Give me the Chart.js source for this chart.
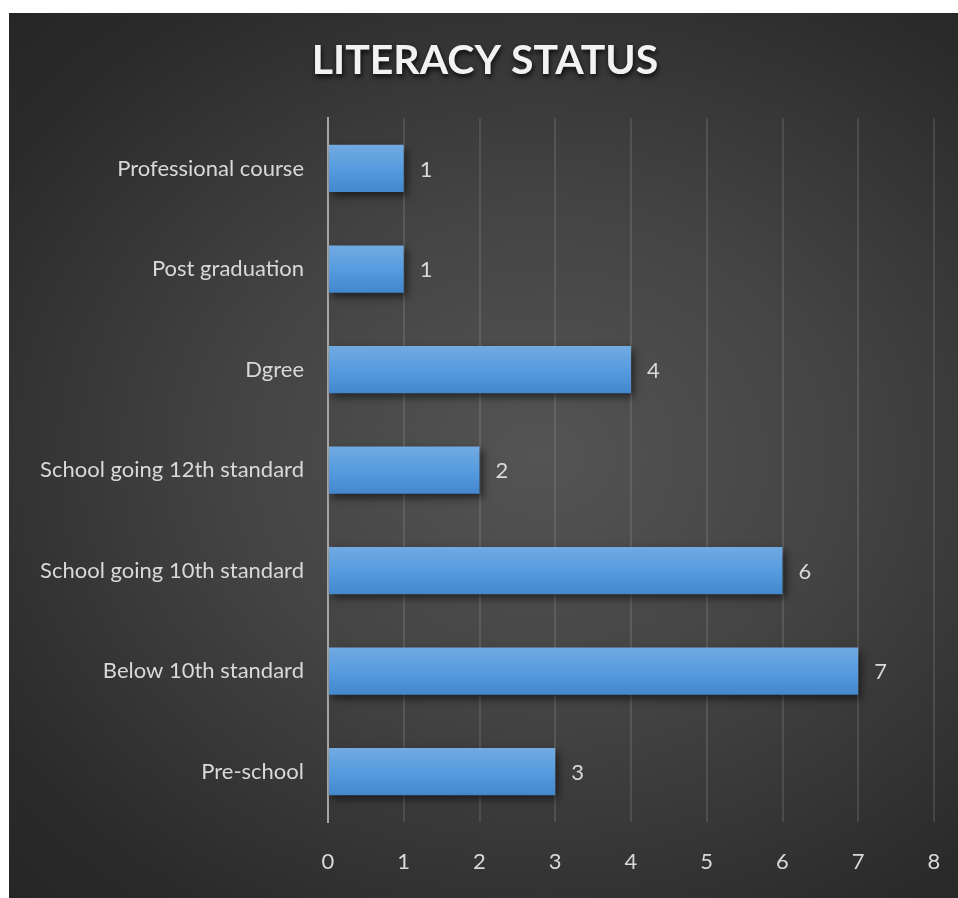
<!DOCTYPE html>
<html>
<head>
<meta charset="utf-8">
<script src="https://cdn.jsdelivr.net/npm/chart.js@4.4.1/dist/chart.umd.min.js"></script>
<style>
  html, body { margin: 0; padding: 0; background: #fff; }
  #wrap { position: relative; width: 958px; height: 898px; }
  #panel {
    position: absolute; left: 9px; top: 13px; width: 949px; height: 885px;
    background: radial-gradient(ellipse at 56% 50%, #545454 0%, #444 40%, #2a2a2a 85%, #262626 100%);
  }
  #chart { position: absolute; left: 0; top: 0; }
</style>
</head>
<body>
<div id="wrap">
  <div id="panel"></div>
  <canvas id="chart" width="958" height="898"></canvas>
</div>
<script>
const categories = [
  'Professional course',
  'Post graduation',
  'Dgree',
  'School going 12th standard',
  'School going 10th standard',
  'Below 10th standard',
  'Pre-school'
];
const counts = [1, 1, 4, 2, 6, 7, 3];
const xTicks = [0, 1, 2, 3, 4, 5, 6, 7, 8];

const FONT = 'Lato, "Open Sans", sans-serif';
const TEXT = '#d9d9d9';
const BAR_PCT = 0.47;

function barFill(context) {
  const chart = context.chart;
  const y = chart.scales.y;
  if (!y || !chart.chartArea) return '#559bdf';
  const c = y.getPixelForValue(context.dataIndex);
  const half = (y.getPixelForValue(1) - y.getPixelForValue(0)) * BAR_PCT / 2;
  const g = chart.ctx.createLinearGradient(0, c - half, 0, c + half);
  g.addColorStop(0, '#72aae1');
  g.addColorStop(0.5, '#569cdf');
  g.addColorStop(1, '#4387cd');
  return g;
}

// soft drop shadow under the bars
const barShadow = {
  id: 'barShadow',
  beforeDatasetsDraw(chart) {
    const ctx = chart.ctx;
    ctx.save();
    ctx.shadowColor = 'rgba(0,0,0,0.55)';
    ctx.shadowBlur = 8;
    ctx.shadowOffsetX = 3;
    ctx.shadowOffsetY = 4;
  },
  afterDatasetsDraw(chart) {
    chart.ctx.restore();
  }
};

// value next to each bar
const valueLabels = {
  id: 'valueLabels',
  afterDatasetsDraw(chart) {
    const ctx = chart.ctx;
    const meta = chart.getDatasetMeta(0);
    ctx.save();
    ctx.font = '22px ' + FONT;
    ctx.fillStyle = TEXT;
    ctx.textAlign = 'left';
    ctx.textBaseline = 'middle';
    meta.data.forEach((bar, i) => {
      ctx.fillText(String(counts[i]), bar.x + 16, bar.y + 1);
    });
    ctx.restore();
  }
};

// drop shadow on the title only, nudged to the panel centre
const titleShadow = {
  id: 'titleShadow',
  afterInit(chart) {
    const tb = chart.titleBlock;
    if (!tb) return;
    const orig = tb.draw.bind(tb);
    tb.draw = function (area) {
      const ctx = chart.ctx;
      ctx.save();
      ctx.translate(8, 0);
      ctx.shadowColor = 'rgba(0,0,0,0.8)';
      ctx.shadowBlur = 5;
      ctx.shadowOffsetX = 1;
      ctx.shadowOffsetY = 3;
      orig(area);
      ctx.restore();
    };
  }
};

new Chart(document.getElementById('chart'), {
  type: 'bar',
  data: {
    labels: categories,
    datasets: [{
      data: counts,
      backgroundColor: barFill,
      borderWidth: 0,
      barPercentage: BAR_PCT,
      categoryPercentage: 1
    }]
  },
  options: {
    indexAxis: 'y',
    responsive: false,
    animation: false,
    layout: { padding: { top: 13, left: 20, right: 24, bottom: 22 } },
    plugins: {
      legend: { display: false },
      tooltip: { enabled: false },
      title: {
        display: true,
        text: 'LITERACY STATUS',
        color: '#f2f2f2',
        font: { family: FONT, size: 41, weight: 'bold', lineHeight: 1.2 },
        padding: { top: 23, bottom: 33 }
      }
    },
    scales: {
      x: {
        min: 0,
        max: 8,
        afterBuildTicks(scale) {
          scale.ticks = xTicks.map(v => ({ value: v }));
        },
        afterFit(scale) {
          scale.height = 54;
          scale.paddingLeft = 0;
          scale.paddingRight = 0;
        },
        border: { display: false },
        grid: {
          drawTicks: false,
          color: ctx => ctx.index === 0 ? 'rgba(0,0,0,0)' : 'rgba(255,255,255,0.11)',
          lineWidth: 2
        },
        ticks: {
          color: TEXT,
          padding: 27,
          font: { family: FONT, size: 22 }
        }
      },
      y: {
        afterFit(scale) { scale.width = 308; },
        border: { display: true, color: '#a5a5a5', width: 2 },
        grid: { display: false, drawTicks: false },
        ticks: {
          color: TEXT,
          padding: 24,
          font: { family: FONT, size: 22 }
        }
      }
    }
  },
  plugins: [barShadow, valueLabels, titleShadow]
});
</script>
</body>
</html>
